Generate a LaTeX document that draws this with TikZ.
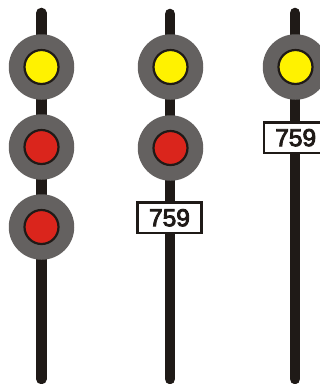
\documentclass[tikz,border=0pt]{standalone}
\usepackage{fontspec}
\setmainfont[FakeBold=3.6]{Liberation Sans}
\definecolor{pole}{HTML}{1F1A17}
\definecolor{hood}{HTML}{646160}
\definecolor{lampy}{HTML}{FFF200}
\definecolor{lampr}{HTML}{DA251C}
\tikzset{
  x=1pt,y=-1pt,
  polebar/.style={line width=10.6pt,draw=pole,line cap=round},
  hoodc/.style={circle,fill=hood,draw=none,minimum size=65.5pt,inner sep=0pt},
  lampc/.style={circle,draw=pole,line width=2.2pt,minimum size=34pt,inner sep=0pt},
  plate/.style={draw=pole,fill=white,line width=2.4pt,minimum width=64pt,minimum height=30.5pt,inner sep=0pt,
    font=\fontsize{24.5}{24.5}\selectfont,text=pole}
}
\begin{document}
\begin{tikzpicture}
\useasboundingbox (0,0) rectangle (320,384);
\clip (0,0) rectangle (320,384);
\coordinate (p1t) at (41.3,13); \coordinate (p1b) at (41.3,379);
\coordinate (p2t) at (170,14); \coordinate (p2b) at (170,379);
\coordinate (p3t) at (295,13); \coordinate (p3b) at (295,379);
\draw[polebar] (p1t) -- (p1b);
\draw[polebar] (p2t) -- (p2b);
\draw[polebar] (p3t) -- (p3b);
\node[hoodc] (h1) at (41.5,67) {};
\node[hoodc] (h2) at (41.5,147) {};
\node[hoodc] (h3) at (41.5,227) {};
\node[lampc,fill=lampy] (l1) at (h1) {};
\node[lampc,fill=lampr] (l2) at (h2) {};
\node[lampc,fill=lampr] (l3) at (h3) {};
\node[hoodc] (h4) at (170.5,67) {};
\node[hoodc] (h5) at (170.5,148) {};
\node[lampc,fill=lampy] (l4) at (h4) {};
\node[lampc,fill=lampr] (l5) at (h5) {};
\node[plate] (n1) at (169.5,217.8) {759};
\node[hoodc] (h6) at (295.5,67) {};
\node[lampc,fill=lampy] (l6) at (h6) {};
\node[plate] (n2) at (295.7,137.7) {759};
\end{tikzpicture}
\end{document}
